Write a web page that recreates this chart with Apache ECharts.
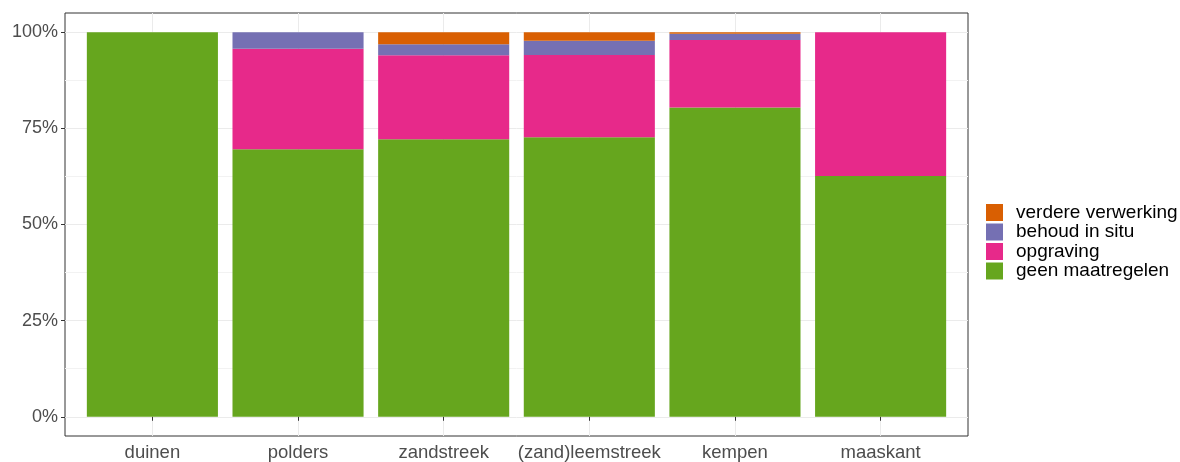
<!DOCTYPE html>
<html>
<head>
<meta charset="utf-8">
<script src="https://cdn.jsdelivr.net/npm/echarts@6/dist/echarts.min.js"></script>
<style>
html,body{margin:0;padding:0;background:#fff;}
#c{width:1180px;height:462px;}
</style>
</head>
<body>
<div id="c"></div>
<script>
const categories = ['duinen', 'polders', 'zandstreek', '(zand)leemstreek', 'kempen', 'maaskant'];
const geenMaatregelen = [100, 69.6, 72.2, 72.7, 80.4, 62.6];
const opgraving = [0, 26.1, 21.8, 21.4, 17.6, 37.4];
const behoudInSitu = [0, 4.3, 2.9, 3.7, 1.6, 0];
const verdereVerwerking = [0, 0, 3.1, 2.2, 0.4, 0];
const yTicks = [0, 25, 50, 75, 100];
const yMinor = [12.5, 37.5, 62.5, 87.5];
const legendOrder = ['verdere verwerking', 'behoud in situ', 'opgraving', 'geen maatregelen'];

const font = 'Liberation Sans, Arial, sans-serif';
const xPos = categories.map((c, i) => i + 1);
// value first (dimension 0 -> y, stacked), category position second (dimension 1 -> x)
const toData = arr => arr.map((v, i) => [v, xPos[i]]);

const chart = echarts.init(document.getElementById('c'), null, {renderer: 'canvas'});
const mk = (name, arr, color) => ({
  name: name, type: 'bar', stack: 'total', data: toData(arr), barWidth: '90%',
  encode: {y: 0, x: 1},
  itemStyle: {color: color}, emphasis: {disabled: true}, animation: false
});
chart.setOption({
  backgroundColor: '#ffffff',
  animation: false,
  grid: {left: 65, right: 212, top: 13, bottom: 24, show: true, borderColor: '#333333', borderWidth: 1, backgroundColor: 'transparent'},
  xAxis: {
    type: 'value', min: 0.4, max: 6.6,
    axisLine: {show: false},
    axisTick: {show: true, length: 4, lineStyle: {color: '#333333'}, customValues: xPos},
    axisLabel: {customValues: xPos, formatter: v => categories[Math.round(v) - 1] || '', color: '#4D4D4D', fontSize: 18.5, fontFamily: font, margin: 7},
    splitLine: {show: true, lineStyle: {color: '#EBEBEB', width: 1}}
  },
  yAxis: [{
    type: 'value', min: -5, max: 105,
    axisLine: {show: false},
    axisTick: {show: true, length: 4, lineStyle: {color: '#333333'}, customValues: yTicks},
    axisLabel: {customValues: yTicks, formatter: v => v + '%', color: '#4D4D4D', fontSize: 18, fontFamily: font, margin: 7},
    splitLine: {show: true, lineStyle: {color: '#EBEBEB', width: 1}}
  }, {
    type: 'value', min: -5, max: 105, position: 'left',
    axisLine: {show: false},
    axisTick: {show: false, customValues: yMinor},
    axisLabel: {show: false, customValues: yMinor},
    splitLine: {show: true, lineStyle: {color: '#F2F2F2', width: 1}}
  }],
  legend: {
    orient: 'vertical', left: 986, top: 203, padding: 0,
    data: legendOrder,
    icon: 'rect', itemWidth: 17, itemHeight: 17, itemGap: 0.5,
    textStyle: {fontSize: 19, fontFamily: font, color: '#000000', lineHeight: 17, padding: [0, 0, 0, 8]},
    selectedMode: false
  },
  series: [
    mk('geen maatregelen', geenMaatregelen, '#66A61E'),
    mk('opgraving', opgraving, '#E7298A'),
    mk('behoud in situ', behoudInSitu, '#7570B3'),
    mk('verdere verwerking', verdereVerwerking, '#D95F02')
  ]
});
</script>
</body>
</html>
